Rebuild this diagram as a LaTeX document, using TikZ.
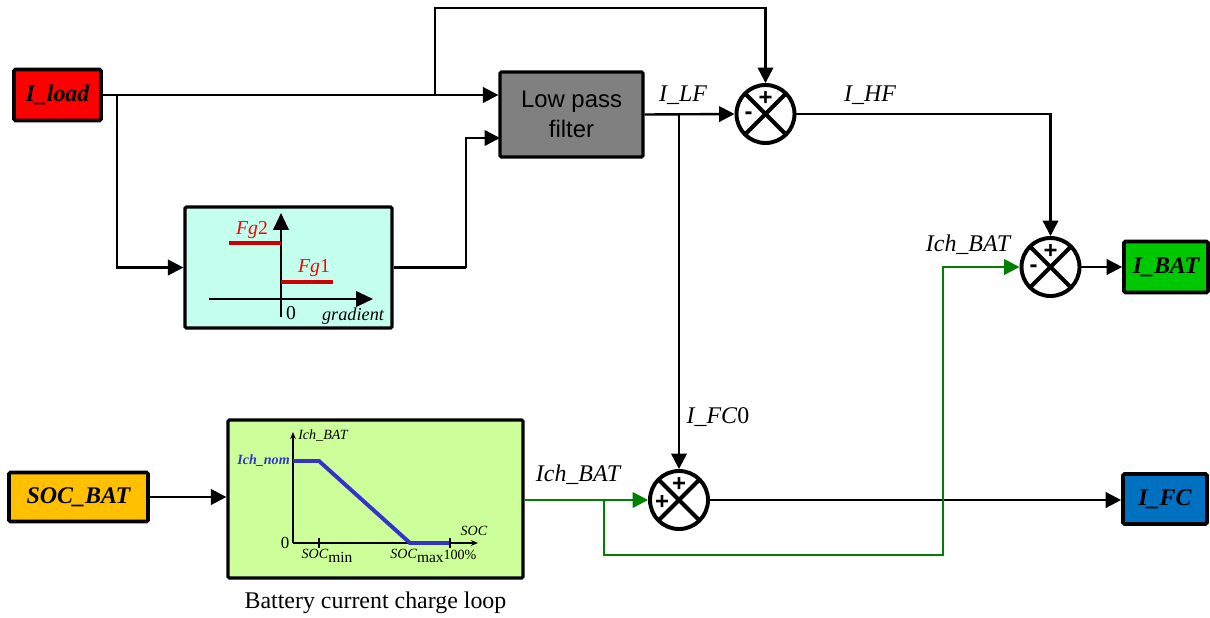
\documentclass[tikz,border=0pt]{standalone}
\usepackage{fontspec}
\setmainfont{Liberation Serif}
\newfontfamily\arialfont{Liberation Sans}
\usetikzlibrary{arrows.meta, calc}
\definecolor{loadred}{RGB}{255,0,0}
\definecolor{lpfgray}{RGB}{128,128,128}
\definecolor{fgcyan}{RGB}{196,255,238}
\definecolor{loopgreen}{RGB}{204,255,153}
\definecolor{ibatgreen}{RGB}{0,200,0}
\definecolor{ifcblue}{RGB}{0,112,192}
\definecolor{socorange}{RGB}{255,192,0}
\definecolor{darkgreen}{RGB}{0,128,0}
\definecolor{fgred}{RGB}{204,0,0}
\definecolor{socblue}{RGB}{51,51,204}

\begin{document}
\begin{tikzpicture}[x=0.025cm, y=-0.025cm]
\tikzset{
    block/.style={
            draw=black, line width=2.6pt, rectangle, rounded corners=1pt, inner sep=0pt,
            font=\fontsize{17}{20}\selectfont\bfseries\itshape
        },
    sumjunc/.style={
            circle, draw=black, line width=2.8pt, minimum size=1.45cm, inner sep=0pt,
            path picture={
                    \draw[line width=3pt] (path picture bounding box.north west) -- (path picture bounding box.south east);
                    \draw[line width=3pt] (path picture bounding box.north east) -- (path picture bounding box.south west);
                }
        },
    sign/.style={font=\arialfont\fontsize{17}{17}\selectfont\bfseries, inner sep=0pt},
    conn/.style={line width=1.7pt, -{Triangle[length=11pt, width=11pt]}},
    wire/.style={line width=1.7pt},
    gconn/.style={conn, draw=darkgreen},
    sig label/.style={font=\fontsize{17}{20}\selectfont\itshape},
    fg axis/.style={line width=1.6pt, -{Triangle[length=12pt, width=11pt]}},
    fg line/.style={line width=2.4pt, draw=fgred},
    fg label/.style={font=\fontsize{14}{16}\selectfont, text=red, inner sep=0pt},
    soc axis/.style={line width=0.9pt, -{Stealth[length=5pt, width=4pt]}},
    soc label/.style={font=\fontsize{10}{12}\selectfont, inner sep=0pt}
}

\useasboundingbox (0,0) rectangle (1210,618);

% Blocks
\node[block, fill=loadred, minimum width=2.175cm, minimum height=1.275cm] (iload) at (57.5,95) {I\_load};
\node[block, fill=lpfgray, line width=2.2pt, minimum width=3.575cm, minimum height=2.125cm, align=center,
    font=\arialfont\fontsize{17}{21}\selectfont] (lpf) at (571.5,114.5) {Low pass\\filter};
\node[block, fill=fgcyan, line width=2.2pt, minimum width=5.175cm, minimum height=3.025cm] (fgbox) at (288.5,267.5) {};
\node[block, fill=ibatgreen, minimum width=2.1cm, minimum height=1.275cm] (ibat) at (1166,267) {I\_BAT};
\node[block, fill=ifcblue, minimum width=2.1cm, minimum height=1.25cm] (ifc) at (1165,499) {I\_FC};
\node[block, fill=socorange, minimum width=3.475cm, minimum height=1.225cm] (socbat) at (78.5,497) {SOC\_BAT};
\node[block, fill=loopgreen, line width=2.2pt, minimum width=7.375cm, minimum height=3.95cm] (loop) at (375.5,499) {};
\node[font=\fontsize{17}{20}\selectfont] (caption) at (375.5,603) {Battery current charge loop};

% Sum junctions
\node[sumjunc] (s1) at (765.5,114) {};
\node[sumjunc] (s3) at (1050.5,267) {};
\node[sumjunc] (s2) at (679,500) {};
\node[sign] at ($(s1)+(0,-16)$) {+};
\node[sign] at ($(s1)+(-17,2)$) {-};
\node[sign] at ($(s3)+(0,-16)$) {+};
\node[sign] at ($(s3)+(-17,2)$) {-};
\node[sign] at ($(s2)+(0,-16)$) {+};
\node[sign] at ($(s2)+(-17,2)$) {+};

% Gradient map
\draw[fg axis] (209,299) -- (373,299);
\draw[fg axis] (281,317) -- (281,213);
\draw[fg line] (229,243) -- (281,243);
\draw[fg line] (281,282) -- (333,282);
\node[fg label] (fg2) at (252,230) {\textit{Fg}2};
\node[fg label] (fg1) at (314,268) {\textit{Fg}1};
\node[font=\fontsize{14}{16}\selectfont, inner sep=0pt] (fgzero) at (291,313) {0};
\node[font=\fontsize{13}{16}\selectfont\itshape, inner sep=0pt] (grad) at (353,316) {gradient};

% Charge loop curve
\draw[soc axis] (293,543) -- (478,543);
\draw[soc axis] (293,543) -- (293,432);
\draw[line width=2.8pt, draw=socblue] (293,461) -- (319,461) -- (410,543) -- (450,543);
\draw[line width=1.4pt] (319,538) -- (319,548);
\draw[line width=1.4pt] (450,538) -- (450,548);
\node[soc label, anchor=west] (ichbat) at (298,436) {\textit{Ich\_BAT}};
\node[soc label, anchor=east, text=socblue] (ichnom) at (290,461) {\textbf{\textit{Ich\_nom}}};
\node[font=\fontsize{12}{14}\selectfont, inner sep=0pt] (soczero) at (285,543) {0};
\node[soc label] (soc) at (474,531) {\textit{SOC}};
\node[soc label] (socmin) at (327,556) {\textit{SOC}\raisebox{-3pt}{\fontsize{11}{12}\selectfont min}};
\node[soc label] (socmax) at (417,556) {\textit{SOC}\raisebox{-3pt}{\fontsize{11}{12}\selectfont max}};
\node[soc label] (socfull) at (460,555) {100\%};

% Connectors
\coordinate (b1) at (117,95);
\coordinate (b2) at (435,95);
\coordinate (t1) at (435,8);
\coordinate (b3) at (466,267.5);
\coordinate (lpfin) at (500,138);
\draw[conn] (iload.east) -- (iload.east -| lpf.west);
\draw[conn] (b1) |- (fgbox.west);
\draw[conn] (b2) -- (t1) -| (s1.north);
\draw[wire] (fgbox.east) -- (b3);
\draw[conn] (b3) |- (lpfin);
\draw[conn] (lpf.east) -- (s1.west);
\draw[conn] (lpf.east -| s2) -- (s2.north);
\draw[conn] (s1.east) -| (s3.north);
\draw[conn] (s3.east) -- (s3.east -| ibat.west);
\draw[conn] (socbat.east) -- (socbat.east -| loop.west);
\draw[conn] (s2.east) -- (s2.east -| ifc.west);
% Charge current path
\coordinate (g1) at (604,500);
\coordinate (g2) at (943,555);
\draw[gconn] (s2.west -| loop.east) -- (s2.west);
\draw[gconn] (g1) |- (g2) |- (s3.west);

% Signal labels
\node[sig label] (lif) at (683,95) {I\_LF};
\node[sig label] (lhf) at (870,95) {I\_HF};
\node[sig label] (lich1) at (968,245) {Ich\_BAT};
\node[sig label] (lich2) at (578,475) {Ich\_BAT};
\node[font=\fontsize{17}{20}\selectfont] (lfc) at (718,417) {\textit{I\_FC}0};
\end{tikzpicture}
\end{document}
